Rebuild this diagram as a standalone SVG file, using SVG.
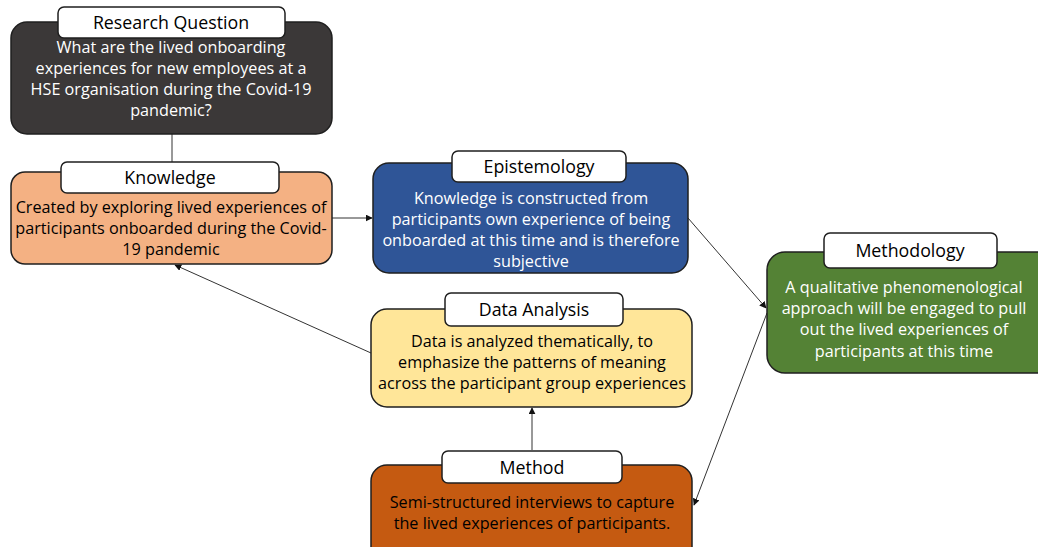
<svg xmlns="http://www.w3.org/2000/svg" width="1038" height="547" viewBox="0 0 1038 547">
  <style>
    .box { stroke: #1f1f1f; stroke-width: 1.5; }
    .tag { fill: #ffffff; stroke: #1f1f1f; stroke-width: 1.5; }
    .tagtext { font-family: "Open Sans", "Noto Sans", sans-serif; font-size: 17.8px; fill: #000; text-anchor: middle; }
    .body { font-family: "Open Sans", "Noto Sans", sans-serif; font-size: 16.2px; text-anchor: middle; }
    .light { fill: #ffffff; }
    .dark { fill: #000000; }
    .link { stroke: #333; stroke-width: 1; fill: none; }
  </style>
  <defs>
    <marker id="arrow" viewBox="0 0 10 10" refX="9" refY="5" markerWidth="7" markerHeight="7" orient="auto-start-reverse" markerUnits="userSpaceOnUse">
      <path d="M0,0 L10,5 L0,10 z" fill="#111"/>
    </marker>
  </defs>
  <rect width="1038" height="547" fill="#ffffff"/>

  <g id="connectors">
    <line class="link" x1="172" y1="134" x2="172" y2="162"/>
    <line class="link" x1="332" y1="218" x2="372" y2="218" marker-end="url(#arrow)"/>
    <line class="link" x1="688" y1="218" x2="766" y2="308" marker-end="url(#arrow)"/>
    <line class="link" x1="767" y1="313" x2="694" y2="505" marker-end="url(#arrow)"/>
    <line class="link" x1="371" y1="353" x2="175" y2="265" marker-end="url(#arrow)"/>
    <line class="link" x1="532" y1="450" x2="532" y2="408" marker-end="url(#arrow)"/>
  </g>

  <g id="research-question">
    <rect class="box" x="11" y="22" width="321" height="112" rx="16" fill="#3b3838"/>
    <rect class="tag" x="58" y="7" width="227" height="31" rx="6"/>
    <text class="tagtext" x="171" y="29">Research Question</text>
    <text class="body light" x="171" y="53">What are the lived onboarding</text>
    <text class="body light" x="171" y="74">experiences for new employees at a</text>
    <text class="body light" x="171" y="95">HSE organisation during the Covid-19</text>
    <text class="body light" x="171" y="116">pandemic?</text>
  </g>

  <g id="knowledge">
    <rect class="box" x="11" y="172" width="321" height="92" rx="14" fill="#f4b183"/>
    <rect class="tag" x="61" y="162" width="218" height="31" rx="6"/>
    <text class="tagtext" x="170" y="184">Knowledge</text>
    <text class="body dark" x="171" y="213">Created by exploring lived experiences of</text>
    <text class="body dark" x="171" y="234">participants onboarded during the Covid-</text>
    <text class="body dark" x="171" y="255">19 pandemic</text>
  </g>

  <g id="epistemology">
    <rect class="box" x="373" y="163" width="315" height="110" rx="16" fill="#2f5597"/>
    <rect class="tag" x="452" y="151" width="174" height="31" rx="6"/>
    <text class="tagtext" x="539" y="173">Epistemology</text>
    <text class="body light" x="531" y="204">Knowledge is constructed from</text>
    <text class="body light" x="531" y="225">participants own experience of being</text>
    <text class="body light" x="531" y="246">onboarded at this time and is therefore</text>
    <text class="body light" x="531" y="267">subjective</text>
  </g>

  <g id="methodology">
    <rect class="box" x="767" y="252" width="290" height="121" rx="18" fill="#548235"/>
    <rect class="tag" x="824" y="233" width="173" height="35" rx="6"/>
    <text class="tagtext" x="910" y="257">Methodology</text>
    <text class="body light" x="904" y="293">A qualitative phenomenological</text>
    <text class="body light" x="904" y="314">approach will be engaged to pull</text>
    <text class="body light" x="904" y="335">out the lived experiences of</text>
    <text class="body light" x="904" y="357">participants at this time</text>
  </g>

  <g id="data-analysis">
    <rect class="box" x="371" y="309" width="321" height="98" rx="16" fill="#ffe699"/>
    <rect class="tag" x="445" y="293" width="178" height="33" rx="6"/>
    <text class="tagtext" x="534" y="316">Data Analysis</text>
    <text class="body dark" x="532" y="347">Data is analyzed thematically, to</text>
    <text class="body dark" x="532" y="368">emphasize the patterns of meaning</text>
    <text class="body dark" x="532" y="389">across the participant group experiences</text>
  </g>

  <g id="method">
    <rect class="box" x="371" y="465" width="321" height="100" rx="16" fill="#c55a11"/>
    <rect class="tag" x="442" y="451" width="180" height="32" rx="6"/>
    <text class="tagtext" x="532" y="474">Method</text>
    <text class="body dark" x="532" y="508">Semi-structured interviews to capture</text>
    <text class="body dark" x="532" y="529">the lived experiences of participants.</text>
  </g>
</svg>
